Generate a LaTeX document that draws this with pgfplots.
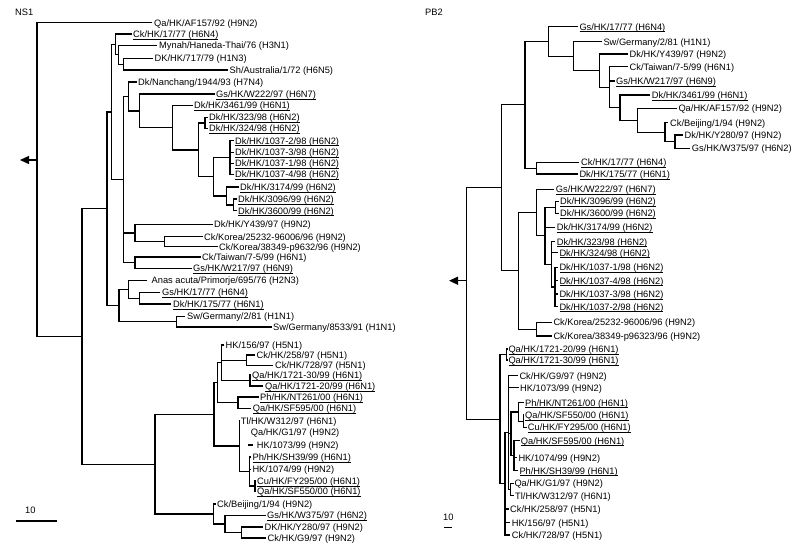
\documentclass[border=0pt]{standalone}
\usepackage{pgfplots}
\pgfplotsset{compat=1.18}
\usepackage{fontspec}
\setmainfont{Liberation Sans}
\usetikzlibrary{arrows.meta}
\tikzset{lbl/.style={font=\fontsize{9.3}{11}\selectfont, anchor=base west, inner sep=0pt, yshift=-3.4pt}}
\newcommand{\ul}[1]{\setbox0\hbox{#1}\rlap{\rule[-1.7pt]{\wd0}{0.6pt}}\box0}
\newcommand{\lab}[3]{\node[lbl] at (axis cs:#1,#2) {#3};}
\newcommand{\ulab}[3]{\node[lbl] at (axis cs:#1,#2) {\ul{#3}};}
\begin{document}
\begin{tikzpicture}
\begin{axis}[width=800pt,height=550pt,scale only axis,xmin=0,xmax=800,ymin=0,ymax=550,
  y dir=reverse,hide axis,clip=false,unbounded coords=jump]
\addplot[draw=none] coordinates {(0,0) (800,550)};
% ---------- NS1 tree ----------
\addplot[black,line width=1.3pt] coordinates {
(152,22.7) (37,22.7) (37,336.5) (82,336.5) (nan,nan)
(107,208.8) (82,208.8) (82,464.2) (155,464.2) (nan,nan)
(111.7,112) (107,112) (107,305.6) (119,305.6) (nan,nan)
(115.7,44.4) (111.7,44.4) (111.7,179.6) (123.3,179.6) (nan,nan)
(131.7,34) (115.7,34) (115.7,54.8) (118.3,54.8) (nan,nan)
(157,45.3) (118.3,45.3) (118.3,64.2) (123.3,64.2) (nan,nan)
(153,58.5) (123.3,58.5) (123.3,70) (228,70) (nan,nan)
(128.3,96.4) (123.3,96.4) (123.3,262.7) (135,262.7) (nan,nan)
(123.3,233) (135,233) (nan,nan)
(136.5,82) (128.3,82) (128.3,110.9) (139.3,110.9) (nan,nan)
(214.5,94) (139.3,94) (139.3,127.7) (172.7,127.7) (nan,nan)
(192.5,105.5) (172.7,105.5) (172.7,149.9) (198.3,149.9) (nan,nan)
(205,123) (198.3,123) (198.3,176.8) (213.3,176.8) (nan,nan)
(207.5,117.5) (205,117.5) (205,128.5) (207.5,128.5) (nan,nan)
(230,157.6) (213.3,157.6) (213.3,196) (226.7,196) (nan,nan)
(233.5,140.7) (230,140.7) (230,174.5) (233.5,174.5) (nan,nan)
(230,152.2) (233.5,152.2) (nan,nan)
(230,163.5) (233.5,163.5) (nan,nan)
(238.5,187) (226.7,187) (226.7,204.9) (233.3,204.9) (nan,nan)
(236.5,199) (233.3,199) (233.3,210.7) (236.5,210.7) (nan,nan)
(212.5,224.3) (135,224.3) (135,241.7) (164.3,241.7) (nan,nan)
(202.5,236.7) (164.3,236.7) (164.3,246.7) (217.5,246.7) (nan,nan)
(200.5,257) (135,257) (135,268.5) (191.5,268.5) (nan,nan)
(128.3,289.4) (119,289.4) (119,321.7) (176.7,321.7) (nan,nan)
(147,280.5) (128.3,280.5) (128.3,298.2) (139.3,298.2) (nan,nan)
(160,292.5) (139.3,292.5) (139.3,304) (171,304) (nan,nan)
(185,316.5) (176.7,316.5) (176.7,327) (271.5,327) (nan,nan)
(214,414.4) (155,414.4) (155,514) (213.3,514) (nan,nan)
(217.3,382.7) (214,382.7) (214,446) (239.3,446) (nan,nan)
(221.7,362.7) (217.3,362.7) (217.3,402.7) (238,402.7) (nan,nan)
(224,345) (221.7,345) (221.7,380.5) (250,380.5) (nan,nan)
(221.7,360.2) (246.7,360.2) (nan,nan)
(255,355) (246.7,355) (246.7,365.5) (273,365.5) (nan,nan)
(251,375) (250,375) (250,386) (263,386) (nan,nan)
(258.5,397) (238,397) (238,408.5) (251,408.5) (nan,nan)
(240,420.7) (239.3,420.7) (239.3,471.5) (249.3,471.5) (nan,nan)
(248,445) (252.5,445) (nan,nan)
(251,457) (249.3,457) (249.3,486) (255,486) (nan,nan)
(249.3,469.3) (251,469.3) (nan,nan)
(256,481) (255,481) (255,491) (256,491) (nan,nan)
(215.5,504) (213.3,504) (213.3,524) (225,524) (nan,nan)
(266,515.5) (225,515.5) (225,532.5) (241.7,532.5) (nan,nan)
(263,527) (241.7,527) (241.7,538) (266,538)
};
\addplot[black,line width=1.3pt,-{Triangle[length=9pt,width=8pt]}] coordinates {(37,160) (20,160)};
\addplot[black,line width=1.3pt] coordinates {(16,521) (57,521)};
% ---------- PB2 tree ----------
\addplot[black,line width=1.3pt] coordinates {
(501.7,187.8) (466.7,187.8) (466.7,419.2) (500,419.2) (nan,nan)
(525,104.8) (501.7,104.8) (501.7,270.8) (518.3,270.8) (nan,nan)
(548.3,41.5) (525,41.5) (525,168.2) (536.7,168.2) (nan,nan)
(577.5,26.7) (548.3,26.7) (548.3,56.2) (573.3,56.2) (nan,nan)
(601.5,41.7) (573.3,41.7) (573.3,70.6) (599.3,70.6) (nan,nan)
(628,54) (599.3,54) (599.3,87.2) (609.3,87.2) (nan,nan)
(628,66.7) (609.3,66.7) (609.3,107.6) (620,107.6) (nan,nan)
(609.3,81) (614.5,81) (nan,nan)
(650,95) (620,95) (620,120.2) (637.3,120.2) (nan,nan)
(676.5,108.3) (637.3,108.3) (637.3,132.2) (665,132.2) (nan,nan)
(668,122.7) (665,122.7) (665,141.7) (675,141.7) (nan,nan)
(683,135) (675,135) (675,148.3) (690,148.3) (nan,nan)
(579,162.3) (536.7,162.3) (536.7,174) (577.5,174) (nan,nan)
(536.7,212.5) (518.3,212.5) (518.3,329.2) (536.7,329.2) (nan,nan)
(553.5,189.3) (536.7,189.3) (536.7,235.8) (545,235.8) (nan,nan)
(555.7,207.3) (545,207.3) (545,264.3) (551.7,264.3) (nan,nan)
(545,227.3) (555,227.3) (nan,nan)
(558.5,201.3) (555.7,201.3) (555.7,213.3) (558.5,213.3) (nan,nan)
(555,241.7) (551.7,241.7) (551.7,287) (555,287) (nan,nan)
(551.7,252.7) (557.5,252.7) (nan,nan)
(558,267.3) (555,267.3) (555,306.7) (558,306.7) (nan,nan)
(555,280.7) (558,280.7) (nan,nan)
(555,294) (558,294) (nan,nan)
(551.5,322.3) (536.7,322.3) (536.7,336) (551.5,336) (nan,nan)
(506.7,354.5) (500,354.5) (500,483.8) (505,483.8) (nan,nan)
(507.5,349) (506.7,349) (506.7,360) (507.5,360) (nan,nan)
(508.3,432.6) (505,432.6) (505,535) (510,535) (nan,nan)
(505,509) (508.5,509) (nan,nan)
(505,522.7) (510,522.7) (nan,nan)
(518,375.7) (508.3,375.7) (508.3,489.5) (510.5,489.5) (nan,nan)
(508.3,387.7) (518.5,387.7) (nan,nan)
(508.3,433.8) (511,433.8) (nan,nan)
(518.3,412) (511,412) (511,455.7) (514,455.7) (nan,nan)
(523.5,402.7) (518.3,402.7) (518.3,421.2) (523.3,421.2) (nan,nan)
(524,415) (523.3,415) (523.3,427.3) (526.5,427.3) (nan,nan)
(519.5,440.7) (514,440.7) (514,470.7) (518,470.7) (nan,nan)
(514,457.7) (517,457.7) (nan,nan)
(513.5,483.3) (510.5,483.3) (510.5,495.7) (513.5,495.7)
};
\addplot[black,line width=1.3pt,-{Triangle[length=9pt,width=8pt]}] coordinates {(466.7,280.7) (449,280.7)};
\addplot[black,line width=1.3pt] coordinates {(444,527.3) (451.7,527.3)};
% ---------- NS1 labels ----------
\lab{15}{12}{NS1}
\lab{154}{22.7}{Qa/HK/AF157/92 (H9N2)}
\ulab{133}{34}{Ck/HK/17/77 (H6N4)}
\lab{159}{45.3}{Mynah/Haneda-Thai/76 (H3N1)}
\lab{154.5}{58.5}{DK/HK/717/79 (H1N3)}
\lab{229.5}{70}{Sh/Australia/1/72 (H6N5)}
\lab{138}{82}{Dk/Nanchang/1944/93 (H7N4)}
\ulab{216}{94}{Gs/HK/W222/97 (H6N7)}
\ulab{194}{105.5}{Dk/HK/3461/99 (H6N1)}
\ulab{209}{117.5}{Dk/HK/323/98 (H6N2)}
\ulab{209}{128.5}{Dk/HK/324/98 (H6N2)}
\ulab{235}{140.7}{Dk/HK/1037-2/98 (H6N2)}
\ulab{235}{152.2}{Dk/HK/1037-3/98 (H6N2)}
\ulab{235}{163.5}{Dk/HK/1037-1/98 (H6N2)}
\ulab{235}{174.5}{Dk/HK/1037-4/98 (H6N2)}
\ulab{240}{187}{Dk/HK/3174/99 (H6N2)}
\ulab{238}{199}{Dk/HK/3096/99 (H6N2)}
\ulab{238}{210.7}{Dk/HK/3600/99 (H6N2)}
\lab{214}{224.3}{Dk/HK/Y439/97 (H9N2)}
\lab{204}{236.7}{Ck/Korea/25232-96006/96 (H9N2)}
\lab{219}{246.7}{Ck/Korea/38349-p9632/96 (H9N2)}
\lab{202}{257}{Ck/Taiwan/7-5/99 (H6N1)}
\ulab{193}{268.5}{Gs/HK/W217/97 (H6N9)}
\lab{151.5}{280.5}{Anas acuta/Primorje/695/76 (H2N3)}
\ulab{162}{292.5}{Gs/HK/17/77 (H6N4)}
\ulab{173}{304}{Dk/HK/175/77 (H6N1)}
\lab{187}{316.5}{Sw/Germany/2/81 (H1N1)}
\lab{273}{327}{Sw/Germany/8533/91 (H1N1)}
\lab{225.5}{345}{HK/156/97 (H5N1)}
\lab{256.5}{355}{Ck/HK/258/97 (H5N1)}
\lab{275}{365.5}{Ck/HK/728/97 (H5N1)}
\ulab{252}{375}{Qa/HK/1721-30/99 (H6N1)}
\ulab{265}{386}{Qa/HK/1721-20/99 (H6N1)}
\ulab{260}{397}{Ph/HK/NT261/00 (H6N1)}
\ulab{252.7}{408.5}{Qa/HK/SF595/00 (H6N1)}
\lab{240.7}{420.7}{Tl/HK/W312/97 (H6N1)}
\lab{250.7}{432.3}{Qa/HK/G1/97 (H9N2)}
\lab{256.7}{445}{HK/1073/99 (H9N2)}
\ulab{252.5}{457}{Ph/HK/SH39/99 (H6N1)}
\lab{252.3}{469.3}{HK/1074/99 (H9N2)}
\ulab{257}{481}{Cu/HK/FY295/00 (H6N1)}
\ulab{257}{491}{Qa/HK/SF550/00 (H6N1)}
\lab{217}{504}{Ck/Beijing/1/94 (H9N2)}
\ulab{267}{515.5}{Gs/HK/W375/97 (H6N2)}
\lab{264.5}{527}{DK/HK/Y280/97 (H9N2)}
\lab{267.5}{538}{Ck/HK/G9/97 (H9N2)}
\lab{25}{510}{10}
% ---------- PB2 labels ----------
\lab{425}{11.7}{PB2}
\ulab{579.3}{26.7}{Gs/HK/17/77 (H6N4)}
\lab{603.3}{41.7}{Sw/Germany/2/81 (H1N1)}
\lab{629.5}{54}{Dk/HK/Y439/97 (H9N2)}
\lab{629.5}{66.7}{Ck/Taiwan/7-5/99 (H6N1)}
\ulab{616}{81}{Gs/HK/W217/97 (H6N9)}
\ulab{651.7}{95}{Dk/HK/3461/99 (H6N1)}
\lab{678.3}{108.3}{Qa/HK/AF157/92 (H9N2)}
\lab{670}{122.7}{Ck/Beijing/1/94 (H9N2)}
\lab{684.5}{135}{Dk/HK/Y280/97 (H9N2)}
\lab{691.7}{148.3}{Gs/HK/W375/97 (H6N2)}
\ulab{581}{162.3}{Ck/HK/17/77 (H6N4)}
\ulab{579.3}{174}{Dk/HK/175/77 (H6N1)}
\ulab{555.7}{189.3}{Gs/HK/W222/97 (H6N7)}
\ulab{560}{201.3}{Dk/HK/3096/99 (H6N2)}
\ulab{560}{213.3}{Dk/HK/3600/99 (H6N2)}
\ulab{556.7}{227.3}{Dk/HK/3174/99 (H6N2)}
\ulab{556.7}{241.7}{Dk/HK/323/98 (H6N2)}
\ulab{559.3}{252.7}{Dk/HK/324/98 (H6N2)}
\ulab{559.3}{267.3}{Dk/HK/1037-1/98 (H6N2)}
\ulab{559.3}{280.7}{Dk/HK/1037-4/98 (H6N2)}
\ulab{559.3}{294}{Dk/HK/1037-3/98 (H6N2)}
\ulab{559.3}{306.7}{Dk/HK/1037-2/98 (H6N2)}
\lab{553.3}{322.3}{Ck/Korea/25232-96006/96 (H9N2)}
\lab{553.3}{336}{Ck/Korea/38349-p96323/96 (H9N2)}
\ulab{508.3}{349}{Qa/HK/1721-20/99 (H6N1)}
\ulab{508.3}{360}{Qa/HK/1721-30/99 (H6N1)}
\lab{519.3}{375.7}{Ck/HK/G9/97 (H9N2)}
\lab{520}{387.7}{HK/1073/99 (H9N2)}
\ulab{525}{402.7}{Ph/HK/NT261/00 (H6N1)}
\ulab{525}{415}{Qa/HK/SF550/00 (H6N1)}
\ulab{527.7}{427.3}{Cu/HK/FY295/00 (H6N1)}
\ulab{520.7}{440.7}{Qa/HK/SF595/00 (H6N1)}
\lab{518.3}{457.7}{HK/1074/99 (H9N2)}
\ulab{519.3}{470.7}{Ph/HK/SH39/99 (H6N1)}
\lab{514.3}{483.3}{Qa/HK/G1/97 (H9N2)}
\lab{515}{495.7}{Tl/HK/W312/97 (H6N1)}
\lab{510}{509}{Ck/HK/258/97 (H5N1)}
\lab{511.7}{522.7}{HK/156/97 (H5N1)}
\lab{511.7}{535}{Ck/HK/728/97 (H5N1)}
\lab{443}{516.7}{10}
\end{axis}
\end{tikzpicture}
\end{document}
